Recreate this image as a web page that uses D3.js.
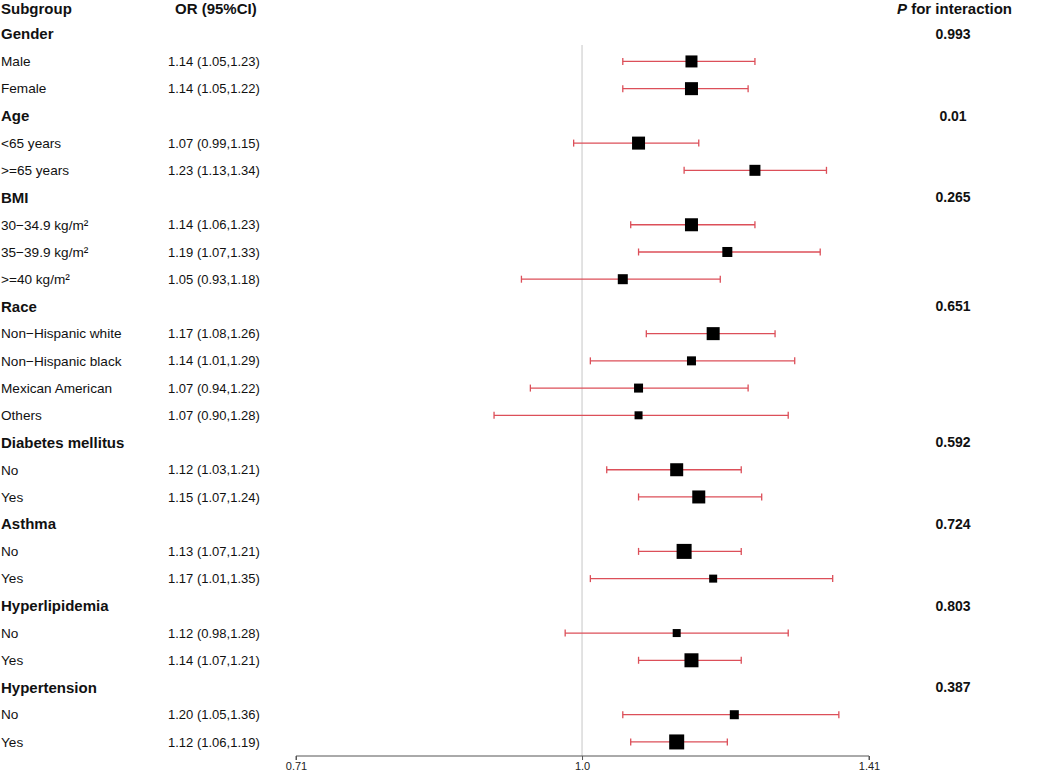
<!doctype html>
<html lang="en">
  <head>
    <meta charset="UTF-8" />
    <title>Subgroup forest plot</title>
    <script src="https://d3js.org/d3.v7.min.js"></script>
    <style>
      body {
        margin: 0;
        background: #fff;
        font-family: 'Liberation Sans', Arial, sans-serif;
      }
      .hdr {
        font-weight: bold;
        font-size: 15px;
        fill: #111;
      }
      .pval {
        font-weight: bold;
        font-size: 14px;
        fill: #111;
      }
      .lbl {
        font-size: 13.6px;
        fill: #111;
      }
      .ortxt {
        font-size: 13px;
        fill: #111;
      }
      .axis text {
        font-size: 11px;
        fill: #222;
      }
      .axis path,
      .axis line {
        stroke: #555;
      }
    </style>
  </head>
  <body>
    <div id="chart"></div>
    <script>
      // Groups and their interaction p values
      const groups = [
        'Gender',
        'Age',
        'BMI',
        'Race',
        'Diabetes mellitus',
        'Asthma',
        'Hyperlipidemia',
        'Hypertension',
      ];
      const pValues = ['0.993', '0.01', '0.265', '0.651', '0.592', '0.724', '0.803', '0.387'];
      const subgroups = [
        ['Male', 'Female'],
        ['<65 years', '>=65 years'],
        ['30\u221234.9 kg/m\u00b2', '35\u221239.9 kg/m\u00b2', '>=40 kg/m\u00b2'],
        ['Non\u2212Hispanic white', 'Non\u2212Hispanic black', 'Mexican American', 'Others'],
        ['No', 'Yes'],
        ['No', 'Yes'],
        ['No', 'Yes'],
        ['No', 'Yes'],
      ];
      const orValues = [
        [1.14, 1.14],
        [1.07, 1.23],
        [1.14, 1.19, 1.05],
        [1.17, 1.14, 1.07, 1.07],
        [1.12, 1.15],
        [1.13, 1.17],
        [1.12, 1.14],
        [1.2, 1.12],
      ];
      const lowerCI = [
        [1.05, 1.05],
        [0.99, 1.13],
        [1.06, 1.07, 0.93],
        [1.08, 1.01, 0.94, 0.9],
        [1.03, 1.07],
        [1.07, 1.01],
        [0.98, 1.07],
        [1.05, 1.06],
      ];
      const upperCI = [
        [1.23, 1.22],
        [1.15, 1.34],
        [1.23, 1.33, 1.18],
        [1.26, 1.29, 1.22, 1.28],
        [1.21, 1.24],
        [1.21, 1.35],
        [1.28, 1.21],
        [1.36, 1.19],
      ];
      // relative weights (box size)
      const weights = [
        [12, 13],
        [13, 11],
        [13, 10, 10],
        [13, 9, 9, 8],
        [13, 13],
        [15, 8],
        [8, 14],
        [9, 15],
      ];
      const axisTicks = [0.71, 1.0, 1.41];
      const axisTickLabels = ['0.71', '1.0', '1.41'];

      // Flatten into rows
      const rows = [];
      groups.forEach((g, gi) => {
        rows.push({ type: 'group', label: g, p: pValues[gi] });
        subgroups[gi].forEach((s, si) => {
          rows.push({
            type: 'sub',
            label: s,
            or: orValues[gi][si],
            lo: lowerCI[gi][si],
            hi: upperCI[gi][si],
            w: weights[gi][si],
          });
        });
      });

      const width = 1040;
      const height = 772;

      const svg = d3
        .select('#chart')
        .append('svg')
        .attr('width', width)
        .attr('height', height);

      // y: header row is index 0
      const yScale = d3
        .scaleLinear()
        .domain([0, rows.length])
        .range([7, 7 + rows.length * 27.22]);

      const xScale = d3
        .scaleLog()
        .domain([0.71, 1.41])
        .range([296, 869]);

      const sizeScale = d3
        .scaleLinear()
        .domain([0, d3.max(weights.flat())])
        .range([0, 15]);

      // Column headers (nudged down a little so they sit inside the page)
      const headY = yScale(0) + 2;
      svg
        .append('text')
        .attr('class', 'hdr')
        .attr('x', 1)
        .attr('y', headY)
        .attr('dy', '0.35em')
        .text('Subgroup');
      svg
        .append('text')
        .attr('class', 'hdr')
        .attr('x', 175)
        .attr('y', headY)
        .attr('dy', '0.35em')
        .text('OR (95%CI)');
      const pHead = svg
        .append('text')
        .attr('class', 'hdr')
        .attr('x', 1012)
        .attr('y', headY)
        .attr('dy', '0.35em')
        .attr('text-anchor', 'end');
      pHead.append('tspan').style('font-style', 'italic').text('P');
      pHead.append('tspan').text(' for interaction');

      // Reference line at OR = 1
      svg
        .append('line')
        .attr('x1', xScale(1))
        .attr('x2', xScale(1))
        .attr('y1', 45)
        .attr('y2', 756)
        .attr('stroke', '#d9d9d9')
        .attr('stroke-width', 1.5);

      const rowG = svg
        .selectAll('.row')
        .data(rows)
        .enter()
        .append('g')
        .attr('class', 'row')
        .attr('transform', (d, i) => 'translate(0,' + yScale(i + 1) + ')');

      rowG
        .append('text')
        .attr('class', (d) => (d.type === 'group' ? 'hdr' : 'lbl'))
        .attr('x', 1)
        .attr('dy', '0.35em')
        .text((d) => d.label);

      const groupRows = rowG.filter((d) => d.type === 'group');
      groupRows
        .append('text')
        .attr('class', 'pval')
        .attr('x', 953)
        .attr('dy', '0.35em')
        .attr('text-anchor', 'middle')
        .text((d) => d.p);

      const subRows = rowG.filter((d) => d.type === 'sub');
      subRows
        .append('text')
        .attr('class', 'ortxt')
        .attr('x', 168)
        .attr('dy', '0.35em')
        .text((d) => d3.format('.2f')(d.or) + ' (' + d3.format('.2f')(d.lo) + ',' + d3.format('.2f')(d.hi) + ')');

      // CI lines with caps
      const ciColor = '#dc4f59';
      subRows
        .append('line')
        .attr('x1', (d) => xScale(d.lo))
        .attr('x2', (d) => xScale(d.hi))
        .attr('stroke', ciColor)
        .attr('stroke-width', 1.3);
      subRows
        .append('line')
        .attr('x1', (d) => xScale(d.lo))
        .attr('x2', (d) => xScale(d.lo))
        .attr('y1', -3.5)
        .attr('y2', 3.5)
        .attr('stroke', ciColor)
        .attr('stroke-width', 1.3);
      subRows
        .append('line')
        .attr('x1', (d) => xScale(d.hi))
        .attr('x2', (d) => xScale(d.hi))
        .attr('y1', -3.5)
        .attr('y2', 3.5)
        .attr('stroke', ciColor)
        .attr('stroke-width', 1.3);

      // Point estimate boxes
      subRows
        .append('rect')
        .attr('x', (d) => xScale(d.or) - sizeScale(d.w) / 2)
        .attr('y', (d) => -sizeScale(d.w) / 2)
        .attr('width', (d) => sizeScale(d.w))
        .attr('height', (d) => sizeScale(d.w))
        .attr('fill', '#000');

      // x axis
      svg
        .append('g')
        .attr('class', 'axis')
        .attr('transform', 'translate(0,756)')
        .call(
          d3
            .axisBottom(xScale)
            .tickValues(axisTicks)
            .tickFormat((d, i) => axisTickLabels[i])
            .tickSize(4)
            .tickPadding(2),
        )
        .call((g) => g.select('.domain').attr('d', 'M296,4V0H869V4'));
    </script>
  </body>
</html>
